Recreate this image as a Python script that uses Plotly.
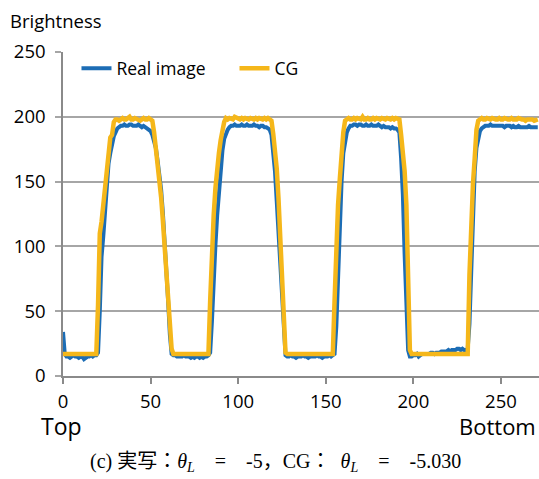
import plotly.graph_objects as go

# ---- data ----
x_ticks = [0, 50, 100, 150, 200, 250]
y_ticks = [0, 50, 100, 150, 200, 250]

real_image = [
    34, 17,
    15, 15, 14, 15, 16, 15, 15, 14, 15, 15, 13, 14, 15, 15, 16, 15, 16,
    16, 18, 50, 92, 108, 126, 148, 164, 172, 180, 185, 188, 191, 192,
    193, 193, 194, 193, 193, 194, 194, 193, 193, 193, 194, 193, 192, 193, 192, 191,
    190, 189, 186, 181, 176, 166, 155, 144, 126, 106, 84, 58, 32, 17,
    16, 16, 15, 15, 15, 15, 16, 15, 15, 15, 14, 15, 14, 15, 15, 14, 15, 14, 15, 15, 16,
    18, 42, 80, 101, 124, 144, 160, 174, 183, 187, 190, 192,
    193, 193, 194, 193, 193, 193, 194, 193, 193, 194, 193, 193, 193, 194, 193, 193, 192, 193, 193, 192, 192,
    191, 190, 186, 172, 158, 135, 110, 85, 55, 30, 16,
    15, 15, 16, 15, 15, 14, 15, 15, 15, 16, 15, 15, 14, 15, 15, 15, 15, 16, 15, 15, 14, 15, 15, 15, 16, 15, 16,
    17, 38, 78, 120, 150, 172, 182, 188, 191, 193,
    193, 194, 194, 193, 194, 194, 193, 193, 194, 193, 193, 194, 193, 193, 193, 194, 193, 192, 193, 192, 192, 192, 191, 192, 191, 191,
    190, 188, 168, 140, 94, 50, 20, 15,
    15, 16, 16, 17, 15, 16, 17, 17, 17, 17, 17, 18, 18, 17, 18, 18, 18, 19, 19, 19, 19, 20, 19, 20, 20, 20, 21, 21, 20, 21, 20, 20, 21,
    40, 80, 125, 158, 176, 185, 189, 191, 192,
    193, 193, 193, 194, 193, 193, 193, 193, 193, 193, 193, 192, 193, 193, 193, 192, 193, 192, 192, 193, 192, 192, 192, 192, 192, 193, 192, 192, 192, 192, 192,
]

cg = [
    17, 17, 17, 17, 17, 17, 17, 17, 17, 17, 17, 17, 17, 17, 17, 17, 17, 17, 17, 17,
    55, 110, 119, 132, 150, 161, 176, 184, 186, 196, 198,
    198, 197, 198, 199, 198, 198, 199, 200, 198, 198, 199, 198, 198, 197, 198, 199, 198, 198, 199, 198,
    197, 188, 176, 165, 152, 138, 120, 100, 80, 58, 36, 21,
    17, 17, 17, 17, 17, 17, 17, 17, 17, 17, 17, 17, 17, 17, 17, 17, 17, 17, 17, 17, 17,
    58, 104, 124, 145, 163, 172, 182, 190, 196,
    199, 198, 199, 198, 198, 200, 199, 198, 198, 199, 198, 199, 198, 198, 199, 198, 198, 199, 198, 199, 198, 198, 199, 198, 199, 198,
    197, 187, 174, 160, 137, 108, 76, 42, 18,
    17, 17, 17, 17, 17, 17, 17, 17, 17, 17, 17, 17, 17, 17, 17, 17, 17, 17, 17, 17, 17, 17, 17, 17, 17, 17, 17,
    58, 98, 132, 152, 172, 188, 197,
    198, 199, 198, 198, 199, 198, 199, 198, 198, 200, 198, 198, 199, 198, 198, 199, 198, 199, 198, 198, 199, 198, 198, 199, 198, 198, 199, 198, 199, 198, 198,
    186, 172, 158, 132, 76, 20,
    17, 17, 17, 17, 17, 17, 17, 17, 17, 17, 17, 17, 17, 17, 17, 17, 17, 17, 17, 17, 17, 17, 17, 17, 17, 17, 17, 17, 17, 17, 17, 17, 17,
    78, 122, 148, 168, 190, 197,
    198, 199, 198, 198, 199, 198, 198, 199, 198, 198, 198, 199, 198, 198, 199, 198, 198, 198, 199, 198, 198, 198, 199, 198, 198, 198, 197, 198, 198, 198, 198, 197, 198, 198,
]

x_real = list(range(len(real_image)))
x_cg = list(range(len(cg)))

BLUE = "#1c6db5"
GOLD = "#f5b71a"
GRID = "#a6a6a6"
AXIS = "#8a8a8a"
FONT = "Open Sans, Noto Sans, DejaVu Sans, sans-serif"
SERIF = "Liberation Serif, DejaVu Serif, Noto Sans CJK JP, serif"

fig = go.Figure()
fig.add_trace(go.Scatter(x=x_real, y=real_image, mode="lines", name="Real image",
                         line=dict(color=BLUE, width=4)))
fig.add_trace(go.Scatter(x=x_cg, y=cg, mode="lines", name="CG",
                         line=dict(color=GOLD, width=4.5)))

W, H = 539, 479
L, R, T, B = 62.5, 0, 51.7, 103.3
pw = W - L - R
ph = H - T - B

def px_x(p):
    return (p - L) / pw

def px_y(p):
    return (H - B - p) / ph

EM = "\u2003"
caption = ("(c) 実写：<i>θ</i><sub><i>L</i></sub>" + EM + "=" + EM + "-5，CG：\u2002<i>θ</i><sub><i>L</i></sub>"
           + EM + "=" + EM + "-5.030")

fig.update_layout(
    width=W, height=H,
    margin=dict(l=L, r=R, t=T, b=B, autoexpand=False),
    paper_bgcolor="white", plot_bgcolor="white",
    font=dict(family=FONT, size=18, color="#000000"),
    showlegend=True,
    legend=dict(orientation="h", x=px_x(76), y=px_y(50), xanchor="left", yanchor="top",
                bgcolor="rgba(0,0,0,0)", font=dict(size=17.5, family=FONT),
                entrywidth=113, entrywidthmode="pixels", traceorder="normal"),
    xaxis=dict(range=[0, 271.7], tickvals=x_ticks, ticks="outside", ticklen=6, tickwidth=1.5,
               tickcolor=AXIS, showline=True, linecolor=AXIS, linewidth=1.5, showgrid=False,
               zeroline=False, ticklabelstandoff=2, tickfont=dict(size=18.5, family=FONT)),
    yaxis=dict(range=[0, 250], tickvals=y_ticks, ticks="outside", ticklen=6, tickwidth=1.5,
               tickcolor=GRID, showline=True, linecolor=AXIS, linewidth=1.5, showgrid=True,
               gridcolor=GRID, gridwidth=1.5, zeroline=False, ticklabelstandoff=6,
               tickfont=dict(size=18.5, family=FONT)),
    annotations=[
        dict(text="Brightness", xref="paper", yref="paper", x=px_x(7), y=px_y(20),
             xanchor="left", yanchor="middle", showarrow=False, font=dict(size=18.5, family=FONT)),
        dict(text="Top", xref="paper", yref="paper", x=px_x(61), y=px_y(426),
             xanchor="center", yanchor="middle", showarrow=False, font=dict(size=23, family=FONT)),
        dict(text="Bottom", xref="paper", yref="paper", x=px_x(538), y=px_y(426),
             xanchor="right", yanchor="middle", showarrow=False, font=dict(size=22, family=FONT)),
        dict(text=caption, xref="paper", yref="paper", x=px_x(275), y=px_y(462),
             xanchor="center", yanchor="middle", showarrow=False,
             font=dict(size=20, family=SERIF)),
    ],
)

fig.write_html("out.html", config={"displayModeBar": False},
               post_script="document.body.style.margin='0';")
